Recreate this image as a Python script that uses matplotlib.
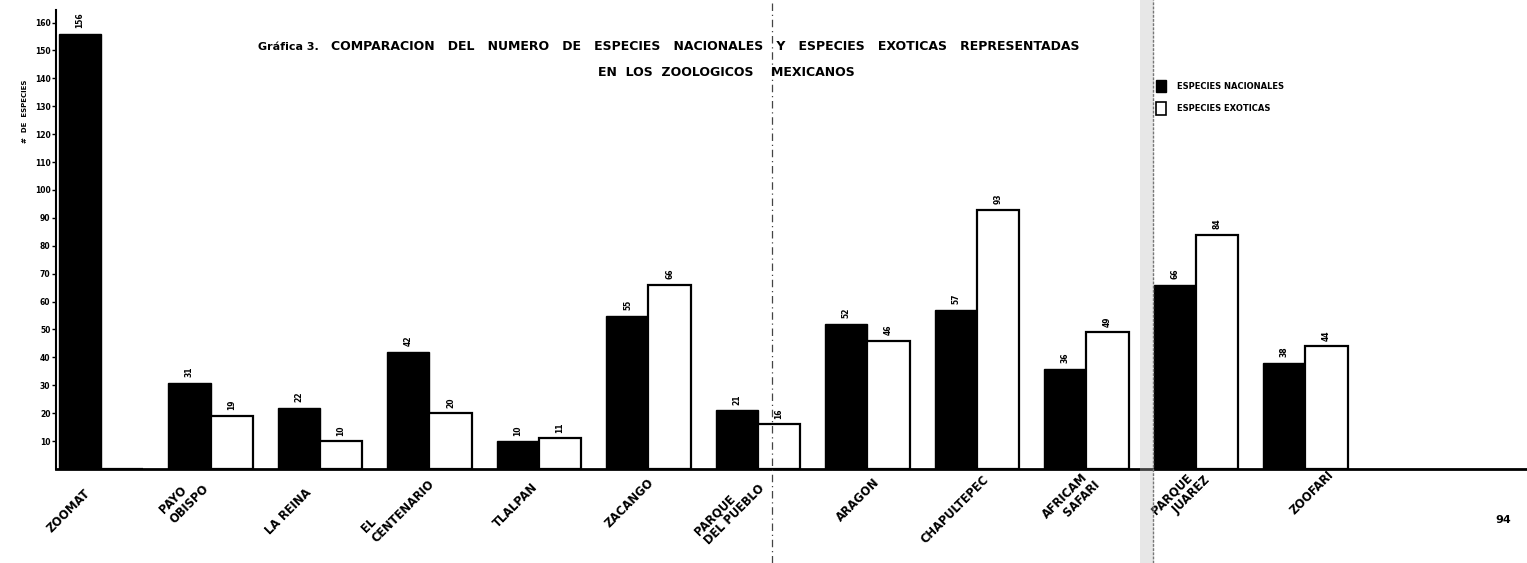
import matplotlib
matplotlib.use("Agg")
import matplotlib.pyplot as plt
from matplotlib.patches import Rectangle, Patch
from matplotlib.lines import Line2D
import numpy as np

plt.rcParams['font.family'] = ['DejaVu Sans']

zoos = ["ZOOMAT", "PAYO\nOBISPO", "LA REINA", "EL\nCENTENARIO", "TLALPAN", "ZACANGO",
        "PARQUE\nDEL PUEBLO", "ARAGON", "CHAPULTEPEC", "AFRICAM\n    SAFARI",
        "PARQUE\n    JUAREZ", "ZOOFARI"]
nacionales = [156, 31, 22, 42, 10, 55, 21, 52, 57, 36, 66, 38]
exoticas = [0, 19, 10, 20, 11, 66, 16, 46, 93, 49, 84, 44]
yticks = [10, 20, 30, 40, 50, 60, 70, 80, 90, 100, 110, 120, 130, 140, 150, 160]

W, H = 1527, 563
fig = plt.figure(figsize=(W / 100, H / 100), dpi=100)
fig.patch.set_facecolor("white")

def fx(px):
    return px / W

def fy(py):
    return 1 - py / H

ax = fig.add_axes([fx(56), fy(469), 1 - fx(56), fy(10) - fy(469)])
ax.set_facecolor("none")

x = np.arange(len(zoos))
w = 0.384
b1 = ax.bar(x - w / 2, nacionales, w, color="black", edgecolor="black", linewidth=1.0)
b2 = ax.bar(x + w / 2, exoticas, w, color="white", edgecolor="black", linewidth=1.6)

for xi, v in zip(x, nacionales):
    ax.annotate(str(v), (xi - w / 2, v), xytext=(0, 4), textcoords="offset points",
                ha="center", va="bottom", rotation=90, fontsize=5.5, fontweight="bold")
for xi, v in zip(x, exoticas):
    if v > 0:
        ax.annotate(str(v), (xi + w / 2, v), xytext=(0, 4), textcoords="offset points",
                    ha="center", va="bottom", rotation=90, fontsize=5.5, fontweight="bold")

ax.set_xlim(-0.411, 13.023)
ax.set_ylim(0, 164.5)
ax.set_yticks(yticks)
ax.set_yticklabels([str(t) for t in yticks], fontsize=5.5, fontweight="bold")
ax.tick_params(axis="y", length=3, width=1, pad=1, direction="out")
ax.set_xticks([])
for s in ["top", "right"]:
    ax.spines[s].set_visible(False)
ax.spines["left"].set_linewidth(1.5)
ax.spines["bottom"].set_linewidth(2.0)

# category labels (rotated, below the axis)
offsets = [-0.30, -0.24, -0.29, -0.29, -0.21, -0.17, -0.26, -0.09, -0.20, -0.14, -0.14, 0.06]
yoffs = [-30, -22, -31, -27, -26, -24.5, -29.5, -22, -29.5, -22, -19, -17]
for xi, lab, dx, dy in zip(x, zoos, offsets, yoffs):
    ax.annotate(lab, (xi + dx, 0), xytext=(0, dy), textcoords="offset points",
                ha="center", va="center", rotation=45, fontsize=8.3, fontweight="bold",
                multialignment="left", annotation_clip=False, linespacing=1.1)

# y label
fig.text(fx(25), fy(111), "#  DE  ESPECIES", rotation=90, ha="center", va="center",
         fontsize=5, fontweight="bold")

# title
fig.text(fx(258), fy(47), "Gráfica 3.", ha="left", va="center", fontsize=8, fontweight="bold")
fig.text(fx(331), fy(47),
         "COMPARACION   DEL   NUMERO   DE   ESPECIES   NACIONALES   Y   ESPECIES   EXOTICAS   REPRESENTADAS",
         ha="left", va="center", fontsize=9, fontweight="bold")
fig.text(fx(598), fy(73), "EN  LOS  ZOOLOGICOS    MEXICANOS", ha="left", va="center",
         fontsize=9, fontweight="bold")

# legend
leg = ax.legend(handles=[Patch(facecolor="black", edgecolor="black"),
                         Patch(facecolor="white", edgecolor="black", linewidth=1.2)],
                labels=["ESPECIES NACIONALES", "ESPECIES EXOTICAS"],
                loc="upper left", bbox_to_anchor=(fx(1148), fy(72)),
                bbox_transform=fig.transFigure, frameon=False,
                prop={"size": 6, "weight": "bold"}, handlelength=1.3, handleheight=2.0,
                labelspacing=1.2, handletextpad=1.3)

# scan artefacts: dashed page join and fold band
fig.add_artist(Line2D([fx(772), fx(772)], [0, 1], transform=fig.transFigure,
                      color="#444444", linewidth=0.9, linestyle=(0, (6, 3, 1, 3))))
fig.add_artist(Rectangle((fx(1140), 0), fx(14), 1, transform=fig.transFigure,
                         facecolor="#bbbbbb", alpha=0.35, edgecolor="none"))
fig.add_artist(Line2D([fx(1153), fx(1153)], [0, 1], transform=fig.transFigure,
                      color="#777777", linewidth=1.0, linestyle=(0, (2, 1))))

fig.text(fx(1503), fy(520), "94", ha="center", va="center", fontsize=8, fontweight="bold")

fig.savefig("out.png", dpi=100, facecolor="white")
